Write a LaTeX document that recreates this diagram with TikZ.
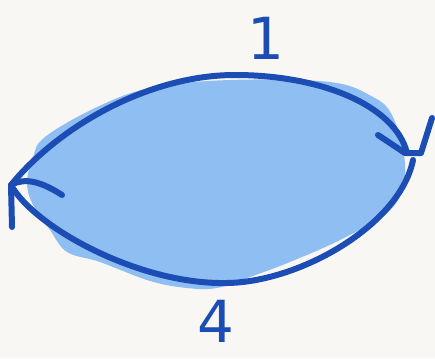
\documentclass[tikz,border=0pt]{standalone}
\usepackage{fontspec}
\newfontfamily\handfont{DejaVu Sans}
\definecolor{paper}{HTML}{F9F7F3}
\definecolor{ink}{HTML}{1B4DB5}
\definecolor{wash}{HTML}{8FBEF2}

\begin{document}
\begin{tikzpicture}[
    x=1pt, y=-1pt,
    outline/.style={draw=ink, line width=6pt, line cap=round, line join=round},
    digit/.style={text=ink, font=\handfont\fontsize{58}{58}\selectfont, inner sep=0pt}
]
    \fill[paper] (0,0) rectangle (435,358);
    \useasboundingbox (0,0) rectangle (435,358);

    \fill[wash] plot[smooth cycle, tension=0.6] coordinates {
        (45,137) (95,108) (150,88) (230,80) (330,82) (373,97) (392,115)
        (404,155) (403,187) (387,213) (340,240) (290,262) (250,277)
        (217,288) (187,288) (150,281) (100,262) (67,252) (50,230) (33,205) (27,183) (33,157)};

    \coordinate (L) at (11,185);
    \coordinate (R) at (407,153);

    \draw[outline] (L) .. controls (60,125) and (150,75) .. (235,75)
        .. controls (320,75) and (395,105) .. (R);
    \draw[outline] (L) .. controls (35,228) and (140,285) .. (227,283)
        .. controls (300,282) and (400,225) .. (413,160);

    \draw[outline] (62,195) .. controls (42,182) and (25,177) .. (L) -- (12,227);
    \draw[outline] (378,135) -- (405,153) -- (421,153) -- (432,118);

    \node[digit, anchor=south] (one) at (266,60) {1};
    \node[digit, anchor=base] (four) at (216,342) {4};
\end{tikzpicture}
\end{document}
